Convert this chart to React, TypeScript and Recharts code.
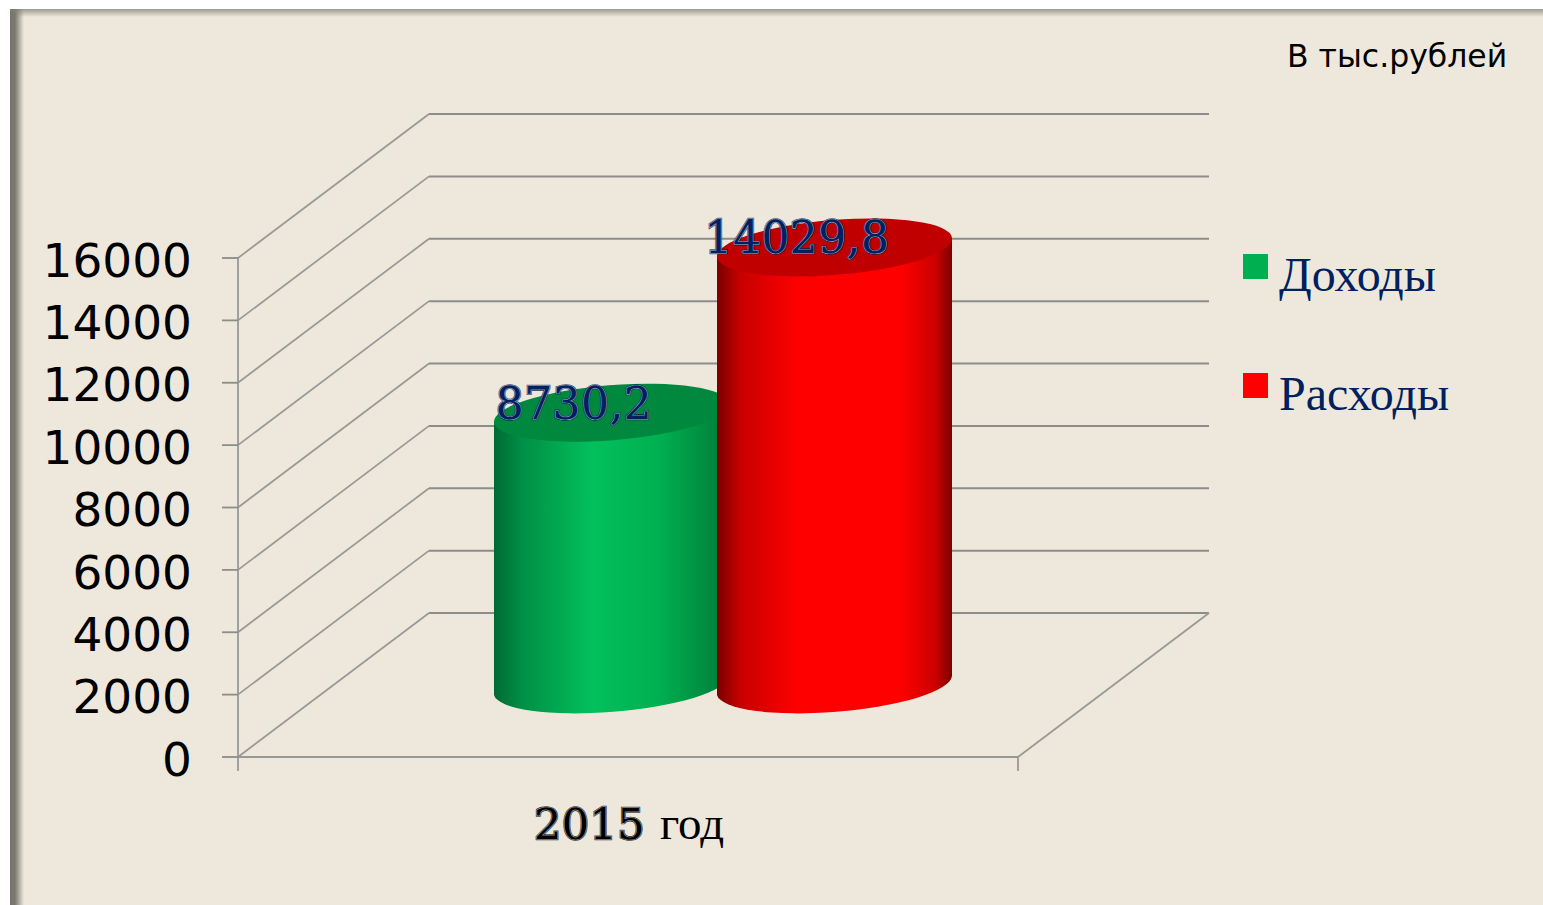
import { BarChart, Bar, XAxis, YAxis, CartesianGrid, Legend, LabelList } from 'recharts';

const categories = ['2015 год'];
const incomeValues = [8730.2];
const expenseValues = [14029.8];
const yTicks = [0, 2000, 4000, 6000, 8000, 10000, 12000, 14000, 16000];

const data = categories.map((name, i) => ({
  name,
  income: incomeValues[i],
  expense: expenseValues[i],
}));

const NAVY = '#002060';
const LINE = '#8c8c88';
const SERIF_DIGITS = '"DejaVu Serif", serif';
const SERIF_TEXT = '"Liberation Serif", serif';
const SANS = '"DejaVu Sans", sans-serif';

// how far the back wall sits from the front plane
const DEPTH_X = 191;
const DEPTH_Y = -144;
const PLOT_BOTTOM = 757;

const formatValue = (v: number) => v.toFixed(1).replace('.', ',');

function EngravedText({ x, y, color, size, children, anchor = 'middle' }: any) {
  const base = { x, y, fontFamily: SERIF_DIGITS, fontSize: size, textAnchor: anchor, letterSpacing: 0.4 };
  return (
    <g>
      <text {...base} fill="none" stroke={color} strokeWidth={2.6} strokeOpacity={0.75}>{children}</text>
      <text {...base} fill="none" stroke="#d5d8de" strokeWidth={1}>{children}</text>
      <text {...base} fill={color} stroke={color} strokeWidth={0.3}>{children}</text>
    </g>
  );
}

function WallLine(props: any) {
  const { x1, x2, y1 } = props;
  const isFloor = Math.abs(y1 - PLOT_BOTTOM) < 1;
  return (
    <g stroke={LINE} fill="none">
      <line x1={x1} y1={y1} x2={x1 + DEPTH_X} y2={y1 + DEPTH_Y} strokeWidth={1.7} stroke="#989895" />
      <line x1={x1 + DEPTH_X} y1={y1 + DEPTH_Y} x2={x2 + DEPTH_X} y2={y1 + DEPTH_Y} strokeWidth={2} />
      {isFloor && <line x1={x2} y1={y1} x2={x2 + DEPTH_X} y2={y1 + DEPTH_Y} strokeWidth={1.7} stroke="#989895" />}
      {isFloor && <line x1={x1} y1={y1} x2={x1} y2={y1 + 14} strokeWidth={1.8} stroke="#989895" />}
      {isFloor && <line x1={x2} y1={y1} x2={x2} y2={y1 + 14} strokeWidth={1.8} stroke="#989895" />}
    </g>
  );
}

function Cylinder(props: any) {
  const { x, y, width, height, gradient, cap } = props;
  const W = width / 2;
  const a = W * 1.004;
  const b = W * 0.234;
  const k = W * 0.08;
  const cx = x + W + DEPTH_X / 2 - 0.5;
  const topY = y + DEPTH_Y / 2;
  const botY = y + height + DEPTH_Y / 2 + 0.5;
  const rot = -4.6;
  const body = [
    `M${cx - W},${topY + k}`,
    `L${cx - W},${botY + k}`,
    `A${a},${b} ${rot} 0 0 ${cx + W},${botY - k}`,
    `L${cx + W},${topY - k}`,
    'Z',
  ].join(' ');
  return (
    <g>
      <path d={body} fill={`url(#${gradient})`} />
      <ellipse cx={cx} cy={topY} rx={a} ry={b} transform={`rotate(${rot} ${cx} ${topY})`} fill={cap} />
    </g>
  );
}

function ValueLabel(props: any) {
  const { x, y, width, value } = props;
  return (
    <EngravedText x={x + width / 2 + DEPTH_X / 2 - 38} y={y - 66} color={NAVY} size={44}>
      {formatValue(value)}
    </EngravedText>
  );
}

function CategoryTick(props: any) {
  const { x, payload } = props;
  const [year, word] = String(payload.value).split(' ');
  return (
    <g>
      <EngravedText x={x - 94} y={PLOT_BOTTOM + 82} color="#000" size={43} anchor="start">{year}</EngravedText>
      <text x={x + 32} y={PLOT_BOTTOM + 82} fontFamily={SERIF_TEXT} fontSize={47} fill="#000">{word}</text>
    </g>
  );
}

function LegendList({ payload }: any) {
  return (
    <div style={{ position: 'relative', width: 290, height: 200 }}>
      {(payload ?? []).map((item: any, i: number) => (
        <div key={item.value}>
          <div style={{ position: 'absolute', left: 0, top: 14 + i * 119, width: 25, height: 25, background: item.color }} />
          <div style={{ position: 'absolute', left: 36, top: 4 + i * 119, fontFamily: SERIF_TEXT, fontSize: 48, lineHeight: '62px', color: NAVY, whiteSpace: 'nowrap' }}>
            {item.value}
          </div>
        </div>
      ))}
    </div>
  );
}

export default function App() {
  return (
    <div
      style={{
        position: 'absolute', left: 0, top: 0, width: 1543, height: 905, background: '#fff', overflow: 'hidden',
      }}
    >
      <div
        style={{
          position: 'absolute', left: 10, top: 9, right: 0, bottom: 0,
          background:
            'linear-gradient(90deg, #77746b 0, #7b786f 5px, #ede8db 14px), #ede8db',
        }}
      />
      <div
        style={{
          position: 'absolute', left: 10, top: 9, right: 0, height: 8,
          background: 'linear-gradient(180deg, rgba(130,127,118,0.75), rgba(237,232,219,0))',
        }}
      />
      <div style={{ position: 'absolute', left: 1287, top: 38, fontFamily: SANS, fontSize: 31.5, color: '#000', whiteSpace: 'nowrap' }}>
        В тыс.рублей
      </div>
      <div style={{ position: 'absolute', left: 0, top: 0 }}>
        <BarChart
          width={1543}
          height={905}
          data={data}
          margin={{ top: 258, right: 525, bottom: 0, left: 0 }}
          barSize={235}
          barGap={-12}
          style={{ position: 'relative' }}
        >
          <defs>
            <linearGradient id="sideGreen" x1="0" y1="0" x2="1" y2="0">
              <stop offset="0" stopColor="#006a33" />
              <stop offset="0.12" stopColor="#008f45" />
              <stop offset="0.42" stopColor="#03c05c" />
              <stop offset="0.7" stopColor="#00b050" />
              <stop offset="1" stopColor="#007a39" />
            </linearGradient>
            <linearGradient id="sideRed" x1="0" y1="0" x2="1" y2="0">
              <stop offset="0" stopColor="#7a0000" />
              <stop offset="0.1" stopColor="#c80000" />
              <stop offset="0.35" stopColor="#ff0000" />
              <stop offset="0.78" stopColor="#ff0000" />
              <stop offset="0.93" stopColor="#cc0000" />
              <stop offset="1" stopColor="#7a0000" />
            </linearGradient>
          </defs>
          <CartesianGrid vertical={false} horizontal={(p: any) => <WallLine key={p.y1} {...p} />} />
          <XAxis
            dataKey="name"
            height={148}
            axisLine={{ stroke: '#989895', strokeWidth: 2 }}
            tickLine={false}
            tick={CategoryTick}
          />
          <YAxis
            width={238}
            domain={[0, 16000]}
            ticks={yTicks}
            interval={0}
            axisLine={{ stroke: '#989895', strokeWidth: 1.8 }}
            tickLine={{ stroke: LINE, strokeWidth: 1.8 }}
            tickSize={16}
            tickMargin={30}
            tick={{ fill: '#000', fontSize: 47, fontFamily: SANS, dy: 2 }}
          />
          <Legend
            layout="vertical"
            align="center"
            verticalAlign="middle"
            content={LegendList}
            wrapperStyle={{ left: 1243, top: 240, width: 290, height: 200 }}
          />
          <Bar
            dataKey="income"
            name="Доходы"
            fill="#00b050"
            isAnimationActive={false}
            shape={(p: any) => <Cylinder {...p} gradient="sideGreen" cap="#00883e" />}
          >
            <LabelList dataKey="income" content={ValueLabel} />
          </Bar>
          <Bar
            dataKey="expense"
            name="Расходы"
            fill="#ff0000"
            isAnimationActive={false}
            shape={(p: any) => <Cylinder {...p} gradient="sideRed" cap="#c00000" />}
          >
            <LabelList dataKey="expense" content={ValueLabel} />
          </Bar>
        </BarChart>
      </div>
    </div>
  );
}
